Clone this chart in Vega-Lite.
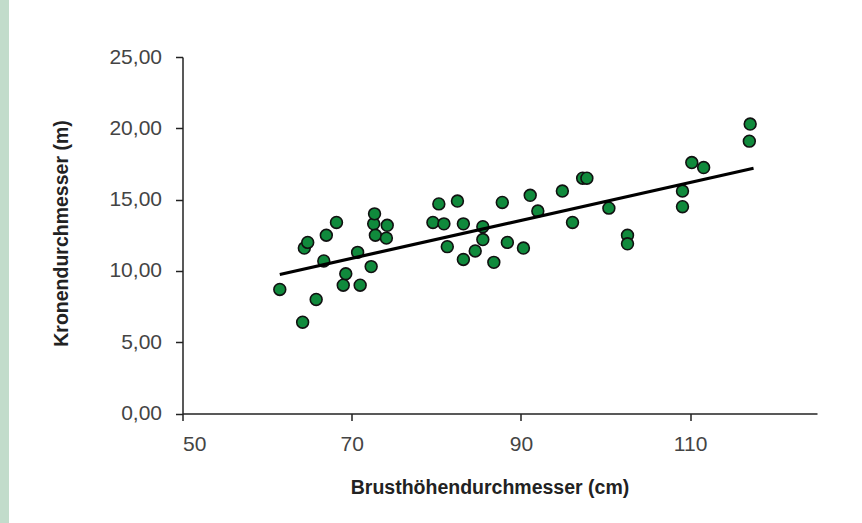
{
  "$schema": "https://vega.github.io/schema/vega-lite/v6.json",
  "width": 634.5,
  "height": 356.5,
  "autosize": {"type": "none"},
  "padding": {"left": 182.5, "top": 57, "right": 45, "bottom": 109.5},
  "background": "#c2dccb",
  "config": {
    "view": {"fill": "white", "stroke": "white", "strokeWidth": 347},
    "axis": {
      "grid": false,
      "domainColor": "#222",
      "domainWidth": 1.5,
      "tickColor": "#222",
      "tickWidth": 1.5,
      "tickSize": 7,
      "labelFont": "Liberation Sans",
      "labelFontSize": 21,
      "labelColor": "#444",
      "titleFont": "Liberation Sans",
      "titleFontSize": 19.5,
      "titleFontWeight": "bold",
      "titleColor": "#222"
    }
  },
  "datasets": {
    "points": [
      {"bhd": 61.5, "kd": 8.7}, {"bhd": 64.2, "kd": 6.4}, {"bhd": 64.4, "kd": 11.6}, {"bhd": 64.8, "kd": 12.0},
      {"bhd": 65.8, "kd": 8.0}, {"bhd": 66.7, "kd": 10.7}, {"bhd": 67.0, "kd": 12.5}, {"bhd": 68.2, "kd": 13.4},
      {"bhd": 69.0, "kd": 9.0}, {"bhd": 69.3, "kd": 9.8}, {"bhd": 70.7, "kd": 11.3}, {"bhd": 71.0, "kd": 9.0},
      {"bhd": 72.3, "kd": 10.3}, {"bhd": 72.6, "kd": 13.3}, {"bhd": 72.7, "kd": 14.0}, {"bhd": 72.8, "kd": 12.5},
      {"bhd": 74.1, "kd": 12.3}, {"bhd": 74.2, "kd": 13.2}, {"bhd": 79.6, "kd": 13.4}, {"bhd": 80.3, "kd": 14.7},
      {"bhd": 80.9, "kd": 13.3}, {"bhd": 81.3, "kd": 11.7}, {"bhd": 82.5, "kd": 14.9}, {"bhd": 83.2, "kd": 13.3},
      {"bhd": 83.2, "kd": 10.8}, {"bhd": 84.6, "kd": 11.4}, {"bhd": 85.5, "kd": 13.1}, {"bhd": 85.5, "kd": 12.2},
      {"bhd": 86.8, "kd": 10.6}, {"bhd": 87.8, "kd": 14.8}, {"bhd": 88.4, "kd": 12.0}, {"bhd": 90.3, "kd": 11.6},
      {"bhd": 91.1, "kd": 15.3}, {"bhd": 92.0, "kd": 14.2}, {"bhd": 94.9, "kd": 15.6}, {"bhd": 96.1, "kd": 13.4},
      {"bhd": 97.3, "kd": 16.5}, {"bhd": 97.8, "kd": 16.5}, {"bhd": 100.4, "kd": 14.4}, {"bhd": 102.6, "kd": 12.5},
      {"bhd": 102.6, "kd": 11.9}, {"bhd": 109.1, "kd": 15.6}, {"bhd": 109.1, "kd": 14.5}, {"bhd": 110.2, "kd": 17.6},
      {"bhd": 111.6, "kd": 17.25}, {"bhd": 117.0, "kd": 19.1}, {"bhd": 117.1, "kd": 20.3}
    ],
    "trend": [
      {"bhd": 61.5, "kd": 9.75},
      {"bhd": 117.5, "kd": 17.2}
    ]
  },
  "layer": [
    {
      "data": {"name": "points"},
      "mark": {"type": "point", "shape": "circle", "filled": true, "fill": "#108a3c", "stroke": "#111", "strokeWidth": 1.6, "size": 140, "opacity": 1},
      "encoding": {
        "x": {
          "field": "bhd", "type": "quantitative",
          "scale": {"domain": [50, 125], "nice": false, "zero": false},
          "axis": {
            "title": "Brusthöhendurchmesser (cm)",
            "values": [50, 70, 90, 110],
            "labelPadding": 13,
            "titleX": 307,
            "titleY": 80,
            "titleBaseline": "alphabetic"
          }
        },
        "y": {
          "field": "kd", "type": "quantitative",
          "scale": {"domain": [0, 25], "nice": false},
          "axis": {
            "title": "Kronendurchmesser (m)",
            "values": [0, 5, 10, 15, 20, 25],
            "labelExpr": "replace(format(datum.value, '.2f'), '.', ',')",
            "labelPadding": 14,
            "titleX": -111,
            "titleY": 176,
            "titleBaseline": "bottom"
          }
        }
      }
    },
    {
      "data": {"name": "trend"},
      "mark": {"type": "line", "color": "#000", "strokeWidth": 3.2},
      "encoding": {
        "x": {"field": "bhd", "type": "quantitative"},
        "y": {"field": "kd", "type": "quantitative"}
      }
    }
  ]
}
